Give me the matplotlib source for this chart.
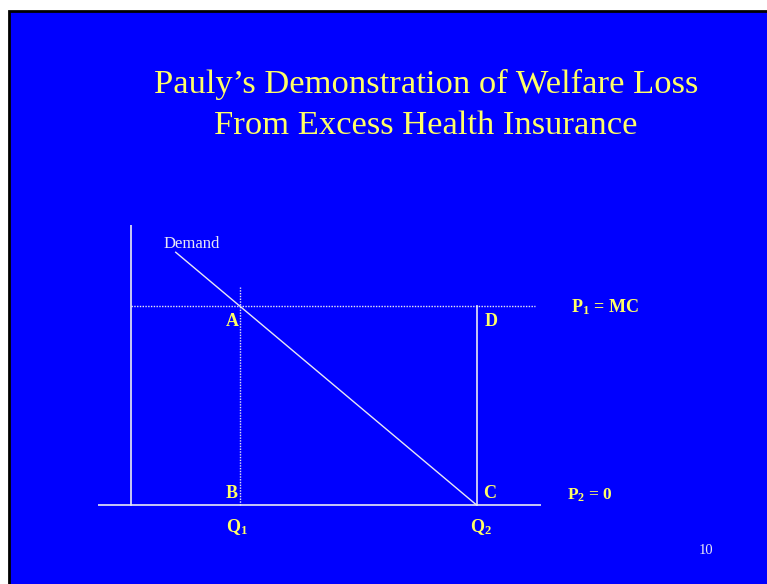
import matplotlib
matplotlib.use('Agg')
import matplotlib.pyplot as plt

plt.rcParams['mathtext.fontset'] = 'custom'
plt.rcParams['mathtext.rm'] = 'Liberation Serif:bold'
plt.rcParams['mathtext.it'] = 'Liberation Serif:bold'
plt.rcParams['mathtext.bf'] = 'Liberation Serif:bold'

# diagram values (quantity, price units)
q1, q2 = 1.0, 3.17
p1, p2 = 1.0, 0.0
demand_q = [0.41, q2]
demand_p = [1.27, p2]

title_lines = ["Pauly\u2019s Demonstration of Welfare Loss",
               "From Excess Health Insurance"]
point_labels = ['A', 'B', 'C', 'D']
point_q = [q1, q1, q2, q2]
point_p = [p1, p2, p2, p1]

W, H = 767, 584
fig = plt.figure(figsize=(W / 100, H / 100), dpi=100)
fig.patch.set_facecolor('white')

# slide background
bg = fig.add_axes([0, 0, 1, 1])
bg.set_xlim(0, W)
bg.set_ylim(H, 0)
bg.axis('off')
bg.add_patch(plt.Rectangle((9, 11), W, H, facecolor='#0000ff', edgecolor='black', lw=2))

yellow = '#ffff66'
white = '#e8e8f4'
serif = 'Liberation Serif'

for i, line in enumerate(title_lines):
    bg.text(426, 84 + i * 42, line, color=yellow, fontsize=24.8, family=serif,
            ha='center', va='center')
bg.text(706, 550, '10', color=white, fontsize=10.5, family=serif, ha='center', va='center')

# diagram axes: pixel box 98..541 by 225..545
ax = fig.add_axes([98 / W, (H - 545) / H, 443 / W, 320 / H])
ax.set_xlim(-0.303, 3.761)
ax.set_ylim(-0.201, 1.407)
ax.axis('off')

lc = white
ax.plot([-0.303, 3.761], [p2, p2], color=lc, lw=1.2)
ax.plot([0, 0], [p2, 1.407], color=lc, lw=1.2)
ax.plot([0, 3.71], [p1, p1], color=lc, lw=1, ls=(0, (1, 1)))
ax.plot([q1, q1], [p2, 1.095], color=lc, lw=1, ls=(0, (1, 1)))
ax.plot([q2, q2], [p2, p1], color=lc, lw=1.2)
ax.plot(demand_q, demand_p, color=lc, lw=1)

ax.text(0.30, 1.31, 'Demand', color=white, fontsize=12, family=serif, ha='left', va='center')

offs = {'A': (-0.07, -0.08), 'B': (-0.08, 0.06), 'C': (0.12, 0.06), 'D': (0.13, -0.08)}
for lab, q, p in zip(point_labels, point_q, point_p):
    dx, dy = offs[lab]
    ax.text(q + dx, p + dy, lab, color=yellow, fontsize=13, family=serif,
            fontweight='bold', ha='center', va='center')

ax.text(q1 - 0.03, -0.11, r'Q$_1$', color=yellow, fontsize=13, family=serif, fontweight='bold',
        ha='center', va='center')
ax.text(q2 + 0.04, -0.11, r'Q$_2$', color=yellow, fontsize=13, family=serif, fontweight='bold',
        ha='center', va='center')
ax.text(4.04, p1 - 0.005, r'P$_1$ = MC', color=yellow, fontsize=13, family=serif,
        fontweight='bold', ha='left', va='center', clip_on=False)
ax.text(4.0, p2 + 0.05, r'P$_2$ = 0', color=yellow, fontsize=12.5, family=serif,
        fontweight='bold', ha='left', va='center', clip_on=False)

fig.savefig('out.png', dpi=100, facecolor=fig.get_facecolor())
